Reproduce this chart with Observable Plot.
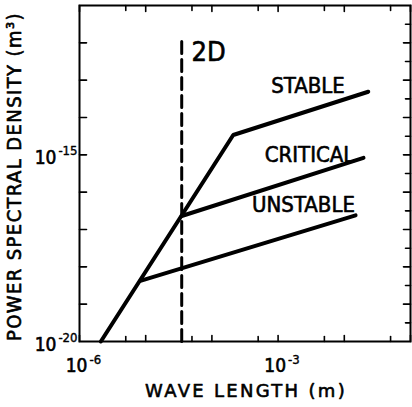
<!DOCTYPE html>
<html>
<head>
<meta charset="utf-8">
<script src="https://cdn.jsdelivr.net/npm/d3@7"></script>
<script src="https://cdn.jsdelivr.net/npm/@observablehq/plot@0.6"></script>
<style>
  html, body { margin: 0; padding: 0; background: #fff; }
  #chart svg { display: block; }
</style>
</head>
<body>
<div id="chart"></div>
<script>
// ---- data (log-log) ----
const stableX   = [2.1e-6, 2.1e-4, 2.3e-2];
const stableY   = [1e-20, 3.4e-15, 4.9e-14];
const criticalX = [3.5e-5, 1.95e-2];
const criticalY = [2.3e-17, 8.3e-16];
const unstableX = [8.3e-6, 1.48e-2];
const unstableY = [4.2e-19, 2.4e-17];
const dashX = [3.5e-5, 3.5e-5];
const dashY = [1e-20, 1.4e-12];

const labelNames = ["2D", "STABLE", "CRITICAL", "UNSTABLE"];
const labelX = [8.9e-5, 2.83e-3, 2.98e-3, 2.42e-3];
const labelY = [5.7e-13, 6.9e-14, 1e-15, 4.5e-17];

const xTickLabels = [1e-6, 1e-3];
const yTickLabels = [1e-20, 1e-15];
const xMajorTicks = [1e-6, 1e-5, 1e-4, 1e-3, 1e-2, 1e-1];
const xMinorTicks = [5e-6, 5e-5, 5e-4, 5e-3, 5e-2];
const yMajorTicks = [1e-19, 1e-18, 1e-17, 1e-16, 1e-15, 1e-14, 1e-13, 1e-12];
const yHalfTicks  = [3.16e-20, 3.16e-19, 3.16e-18, 3.16e-17, 3.16e-16, 3.16e-15, 3.16e-14, 3.16e-13, 3.16e-12];

const xTitle = "WAVE LENGTH (m)";
const yTitle = "POWER SPECTRAL DENSITY (m³)";

const series = [
  ...stableX.map((x, i) => ({name: "STABLE", x, y: stableY[i]})),
  ...criticalX.map((x, i) => ({name: "CRITICAL", x, y: criticalY[i]})),
  ...unstableX.map((x, i) => ({name: "UNSTABLE", x, y: unstableY[i]}))
];
const dash = dashX.map((x, i) => ({x, y: dashY[i]}));
const labels = labelNames.map((t, i) => ({t, x: labelX[i], y: labelY[i]}));

const tickShape = {draw(ctx, l) { ctx.moveTo(0, 0); ctx.lineTo(0, -l); }};
const exp = v => String(Math.round(Math.log10(v)));

const narrow = "'DejaVu Sans Condensed', 'Liberation Sans Narrow', 'DejaVu Sans', sans-serif";
const wide = "'DejaVu Sans', sans-serif";
const ink = {fill: "black", stroke: "black", strokeWidth: 0.6};

const tickMark = (data, opts) => Plot.vector(data, {anchor: "start", shape: tickShape, stroke: "black", strokeWidth: 1.6, ...opts});

const chart = Plot.plot({
  width: 412,
  height: 407,
  marginLeft: 79,
  marginRight: 2,
  marginTop: 5,
  marginBottom: 66,
  x: {type: "log", domain: [1e-6, 1e-1], axis: null},
  y: {type: "log", domain: [1e-20, 1e-11], axis: null},
  style: {background: "#fff", color: "black", fontFamily: wide},
  marks: [
    // inward ticks
    tickMark(xMajorTicks, {x: d => d, frameAnchor: "bottom", rotate: 0, length: 6}),
    tickMark(xMinorTicks, {x: d => d, frameAnchor: "bottom", rotate: 0, length: 5}),
    tickMark(xMajorTicks, {x: d => d, frameAnchor: "top", rotate: 180, length: 6}),
    tickMark(xMinorTicks, {x: d => d, frameAnchor: "top", rotate: 180, length: 5}),
    tickMark(yMajorTicks, {y: d => d, frameAnchor: "left", rotate: 90, length: 7}),
    tickMark(yMajorTicks, {y: d => d, frameAnchor: "right", rotate: -90, length: 7}),
    tickMark(yHalfTicks, {y: d => d, frameAnchor: "right", rotate: -90, length: 5}),
    Plot.frame({stroke: "black", strokeWidth: 2}),
    // dashed 2D limit
    Plot.line(dash, {x: "x", y: "y", stroke: "black", strokeWidth: 3, strokeDasharray: "12,6"}),
    // spectra
    Plot.line(series, {x: "x", y: "y", z: "name", stroke: "black", strokeWidth: 4, strokeLinecap: "round", strokeLinejoin: "miter"}),
    // curve labels
    Plot.text(labels, {x: "x", y: "y", text: "t", fontFamily: narrow, fontSize: d => d.t === "2D" ? 27 : 22, lineAnchor: "middle", ...ink}),
    // y tick labels
    Plot.text(yTickLabels, {y: d => d, text: () => "10", frameAnchor: "left", textAnchor: "end", dx: -23, dy: 3, fontSize: 19, fontFamily: narrow, lineAnchor: "middle", ...ink}),
    Plot.text(yTickLabels, {y: d => d, text: exp, frameAnchor: "left", textAnchor: "end", dx: -2, dy: -4, fontSize: 13, fontFamily: narrow, lineAnchor: "middle", ...ink, strokeWidth: 0.4}),
    // x tick labels
    Plot.text(xTickLabels, {x: d => d, text: () => "10", frameAnchor: "bottom", textAnchor: "end", dx: 8, dy: 24, fontSize: 19, fontFamily: narrow, lineAnchor: "middle", ...ink}),
    Plot.text(xTickLabels, {x: d => d, text: exp, frameAnchor: "bottom", textAnchor: "start", dx: 10, dy: 18, fontSize: 13, fontFamily: narrow, lineAnchor: "middle", ...ink, strokeWidth: 0.4}),
    // axis titles
    Plot.text([xTitle], {text: d => d, frameAnchor: "bottom", textAnchor: "middle", dx: 1, dy: 50, fontSize: 18, fontFamily: wide, lineAnchor: "middle", ariaLabel: () => "xtitle", ...ink}),
    Plot.text([yTitle], {text: d => d, frameAnchor: "left", textAnchor: "middle", dx: -65, dy: 3, rotate: -90, fontSize: 20, fontFamily: narrow, lineAnchor: "middle", ariaLabel: () => "ytitle", ...ink})
  ]
});
chart.querySelectorAll('[aria-label="xtitle"]').forEach(t => t.setAttribute("letter-spacing", "2.3px"));
chart.querySelectorAll('[aria-label="ytitle"]').forEach(t => t.setAttribute("letter-spacing", "1.4px"));
document.getElementById("chart").appendChild(chart);
</script>
</body>
</html>
